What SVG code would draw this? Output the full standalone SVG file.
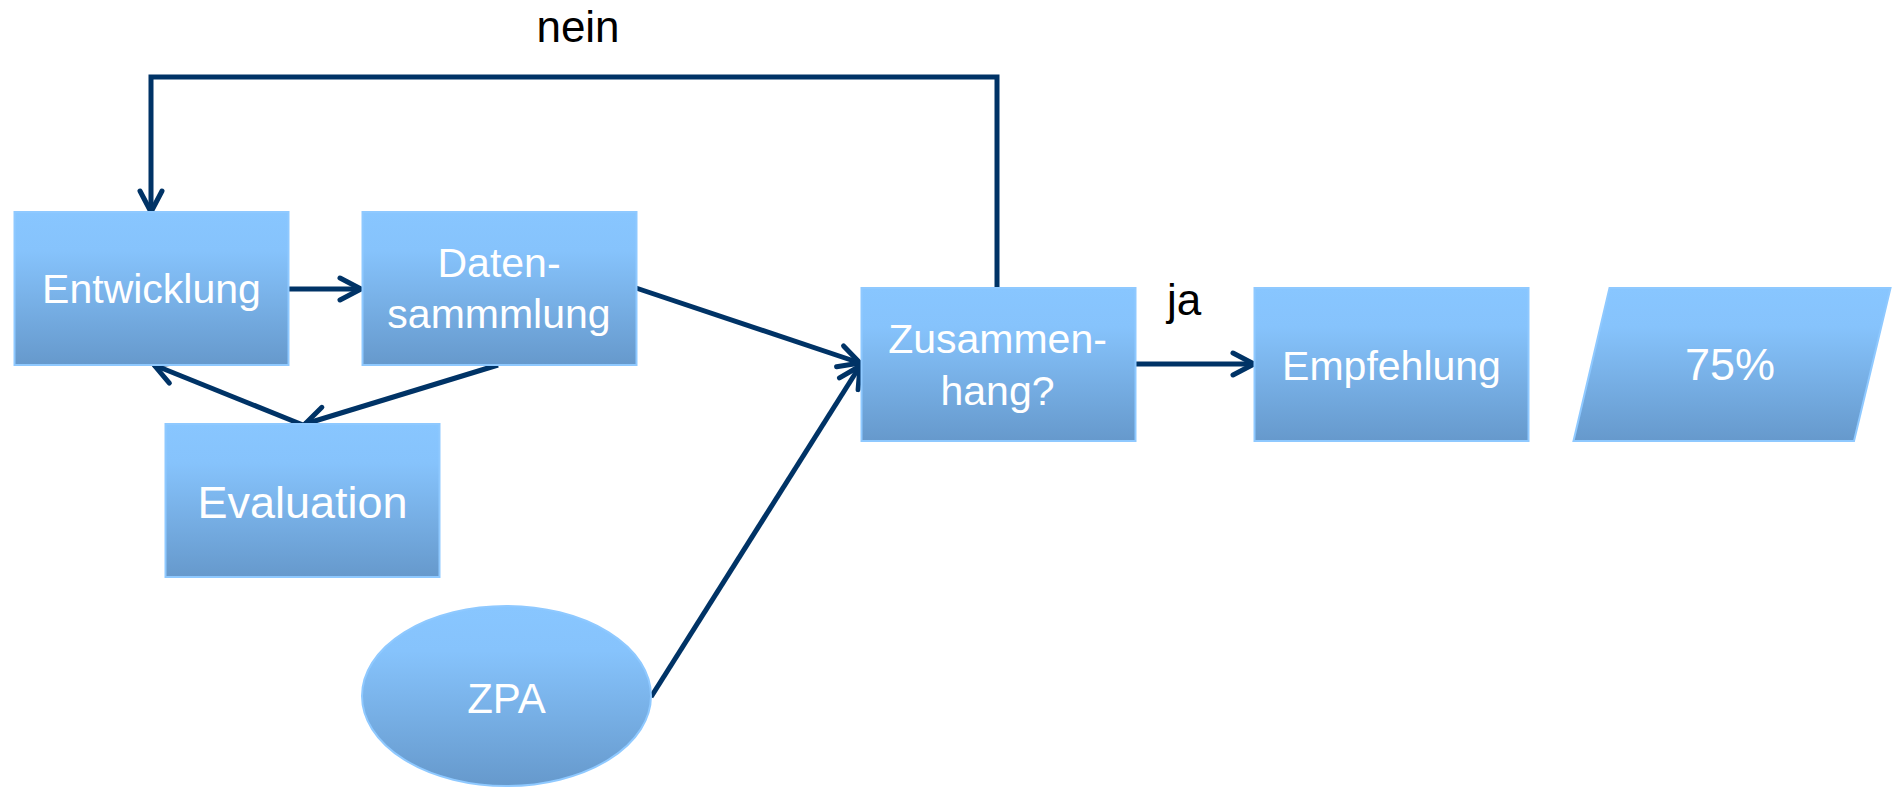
<svg xmlns="http://www.w3.org/2000/svg" width="1892" height="787" viewBox="0 0 1892 787">
  <style>
    .node { fill: url(#g); stroke: #8fc9ff; stroke-width: 2; }
    .lbl { font-family: "Liberation Sans", Arial, sans-serif; fill: #ffffff; text-anchor: middle; font-size: 41px; }
    .edge { fill: none; stroke: #003366; stroke-width: 5; marker-end: url(#arr); }
    .note { font-family: "Liberation Sans", Arial, sans-serif; fill: #000000; text-anchor: middle; font-size: 44px; }
  </style>
  <defs>
    <linearGradient id="g" x1="0" y1="0" x2="0" y2="1">
      <stop offset="0" stop-color="#88c6ff"/>
      <stop offset="0.25" stop-color="#86c3fc"/>
      <stop offset="1" stop-color="#6699cc"/>
    </linearGradient>
    <marker id="arr" markerUnits="userSpaceOnUse" markerWidth="30" markerHeight="30" refX="24" refY="15" orient="auto" overflow="visible">
      <path d="M3,4 L24,15 L3,26" fill="none" stroke="#003366" stroke-width="5" stroke-linecap="round" stroke-linejoin="round"/>
    </marker>
  </defs>
  <rect width="1892" height="787" fill="#ffffff"/>

  <g id="connectors">
    <polyline class="edge" points="997,288 997,77 151,77 151,212"/>
    <line class="edge" x1="288" y1="289" x2="361" y2="289"/>
    <line class="edge" x1="636" y1="288" x2="860" y2="363"/>
    <line class="edge" x1="1135" y1="364" x2="1254" y2="364"/>
    <line class="edge" x1="651" y1="697" x2="860" y2="366"/>
    <line class="edge" x1="498" y1="365" x2="305" y2="424"/>
    <line class="edge" x1="303" y1="425" x2="154" y2="365"/>
  </g>

  <g id="entwicklung">
    <rect class="node" x="14.5" y="212" width="274" height="153"/>
    <text class="lbl" x="151.5" y="303">Entwicklung</text>
  </g>
  <g id="datensammlung">
    <rect class="node" x="362.5" y="212" width="274" height="153"/>
    <text class="lbl" x="499" y="277">Daten-</text>
    <text class="lbl" x="499" y="328">sammmlung</text>
  </g>
  <g id="evaluation">
    <rect class="node" x="165.5" y="424" width="274" height="153"/>
    <text class="lbl" x="302.5" y="518" style="font-size:45px">Evaluation</text>
  </g>
  <g id="zusammenhang">
    <rect class="node" x="861.5" y="288" width="274" height="153"/>
    <text class="lbl" x="997.5" y="353">Zusammen-</text>
    <text class="lbl" x="997.5" y="405">hang?</text>
  </g>
  <g id="empfehlung">
    <rect class="node" x="1254.5" y="288" width="274" height="153"/>
    <text class="lbl" x="1391.5" y="380">Empfehlung</text>
  </g>
  <g id="prozent">
    <polygon class="node" points="1609.5,288 1890.5,288 1854,441 1573.5,441"/>
    <text class="lbl" x="1730" y="380" style="font-size:45px">75%</text>
  </g>
  <g id="zpa">
    <ellipse class="node" cx="506.5" cy="696" rx="144.5" ry="90"/>
    <text class="lbl" x="506.5" y="713" style="font-size:42px">ZPA</text>
  </g>

  <text class="note" x="578" y="42">nein</text>
  <text class="note" x="1184" y="315">ja</text>
</svg>
